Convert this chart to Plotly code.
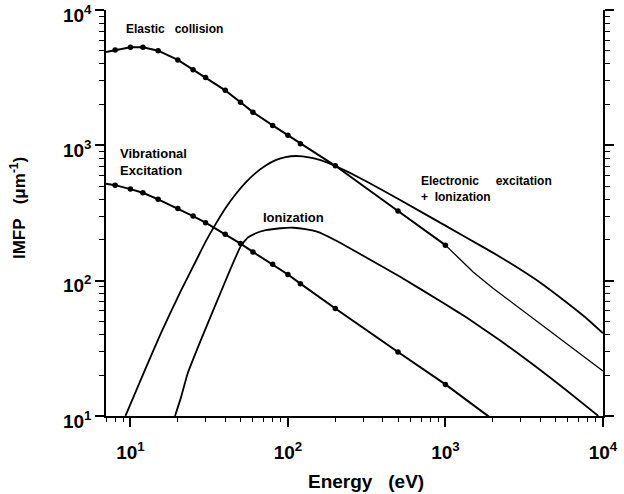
import plotly.graph_objects as go

# Elastic collision IMFP (µm^-1) at the computed energies (eV)
elastic_energy = [8, 10, 12, 15, 20, 25, 30, 40, 50, 60, 80, 100, 120, 200, 500, 1000]
elastic_imfp = [5070, 5310, 5310, 5010, 4280, 3620, 3180, 2550, 2080, 1760, 1405, 1186, 1028, 706, 327, 183]
elastic_edge_energy = [7]
elastic_edge_imfp = [4900]
elastic_tail_energy = [1000, 1125, 1500, 2014, 3600, 5860, 10000]
elastic_tail_imfp = [183, 161, 116, 87.5, 52.5, 34.3, 21.5]

# Vibrational excitation IMFP
vib_energy = [8, 10, 12, 15, 20, 25, 30, 40, 50, 60, 80, 100, 120, 200, 500, 1000]
vib_imfp = [508, 475, 446, 399, 342, 300, 268, 220, 188, 163, 132, 111, 95, 62.2, 29.7, 17.1]
vib_edge_energy = [7]
vib_edge_imfp = [520]
vib_tail_energy = [1000, 2000]
vib_tail_imfp = [17.1, 9.4]

# Electronic excitation + ionization IMFP
exc_energy = [9.3, 12.3, 15.6, 20.9, 26.1, 30.1, 34.9, 40.3, 46.7, 54, 62.5, 72.3, 83.6,
              96.7, 112, 139, 161, 200, 249.5, 318, 516, 1000, 1782, 2252, 2830, 4070,
              5860, 7620, 10000]
exc_imfp = [10, 21.5, 40.7, 84.0, 140.3, 195, 264, 346, 437, 532, 626, 709, 777,
            819, 834, 813, 778, 706, 623, 538, 394, 255, 174, 148.5, 126, 95.4,
            69.3, 54.3, 40.9]

# Ionization IMFP
ion_energy = [19.2, 20.9, 23.1, 28, 35.7, 43.4, 50.2, 55.6, 62.5, 72.3, 89.9, 108.6, 129.4,
              153, 200, 249, 516, 1000, 1364, 2218, 3600, 5860, 9350]
ion_imfp = [10, 13.6, 20.6, 36.3, 71.8, 123.7, 180, 208, 224, 236, 244, 246, 240,
            230, 199, 173, 106.7, 66.9, 53.3, 36.3, 24.0, 15.5, 10]

decades = [10, 100, 1000, 10000]
x_tick_text = ["10<sup>1</sup>", "10<sup>2</sup>", "10<sup>3</sup>", "10<sup>4</sup>"]
y_tick_text = ["10<sup>1</sup>", "10<sup>2</sup>", "10<sup>3</sup>", "10<sup>4</sup>"]
x_minor = [m * d for d in [1, 10, 100, 1000] for m in range(2, 10)]
y_minor = [m * d for d in [10, 100, 1000] for m in range(2, 10)]

FONT = "Arial, 'Liberation Sans', Helvetica, sans-serif"
BLACK = "black"

fig = go.Figure()

fig.add_trace(go.Scatter(x=elastic_edge_energy + elastic_energy,
                         y=elastic_edge_imfp + elastic_imfp,
                         mode="lines", line=dict(color=BLACK, width=2)))
fig.add_trace(go.Scatter(x=elastic_energy, y=elastic_imfp, mode="markers",
                         marker=dict(color=BLACK, size=5.5)))
fig.add_trace(go.Scatter(x=elastic_tail_energy, y=elastic_tail_imfp, mode="lines",
                         line=dict(color=BLACK, width=1.3)))

fig.add_trace(go.Scatter(x=vib_edge_energy + vib_energy, y=vib_edge_imfp + vib_imfp,
                         mode="lines", line=dict(color=BLACK, width=2)))
fig.add_trace(go.Scatter(x=vib_energy, y=vib_imfp, mode="markers",
                         marker=dict(color=BLACK, size=5.5)))
fig.add_trace(go.Scatter(x=vib_tail_energy, y=vib_tail_imfp, mode="lines",
                         line=dict(color=BLACK, width=2)))

fig.add_trace(go.Scatter(x=exc_energy, y=exc_imfp, mode="lines",
                         line=dict(color=BLACK, width=1.8, shape="spline", smoothing=0.5)))
fig.add_trace(go.Scatter(x=ion_energy, y=ion_imfp, mode="lines",
                         line=dict(color=BLACK, width=1.8, shape="spline", smoothing=0.4)))

W, H = 624, 494
L, R, T, B = 106, 21.3, 10, 78.3
PW, PH = W - L - R, H - T - B


def px(x):
    return (x - L) / PW


def py(y):
    return (H - B - y) / PH


def label(text, x, y, size=12):
    fig.add_annotation(text=text, xref="paper", yref="paper", x=px(x), y=py(y),
                       xanchor="left", yanchor="middle", align="left", showarrow=False,
                       font=dict(family=FONT, size=size, color=BLACK, weight="bold"))


label("Elastic\u00a0\u00a0\u00a0collision", 124, 29)
label("Vibrational<br>Excitation", 118, 161.5, 13)
label("Ionization", 261, 217, 13)
label("Electronic\u00a0\u00a0\u00a0\u00a0\u00a0excitation<br>+\u00a0\u00a0Ionization", 419, 188.5)

fig.add_annotation(text="Energy\u00a0\u00a0\u00a0(eV)", xref="paper", yref="paper",
                   x=px(366), y=py(481), xanchor="center", yanchor="middle",
                   showarrow=False,
                   font=dict(family=FONT, size=19, color=BLACK, weight="bold"))
fig.add_annotation(text="IMFP\u00a0\u00a0\u00a0(\u03bcm<sup>-1</sup>)", xref="paper", yref="paper",
                   x=px(18), y=py(208), xanchor="center", yanchor="middle",
                   textangle=-90, showarrow=False,
                   font=dict(family=FONT, size=17, color=BLACK, weight="bold"))

fig.update_layout(
    width=W, height=H,
    margin=dict(l=L, r=R, t=T, b=B, autoexpand=False),
    paper_bgcolor="white", plot_bgcolor="white",
    showlegend=False,
    font=dict(family=FONT, color=BLACK),
)

fig.update_xaxes(
    type="log", range=[0.845, 4.0005], showgrid=False, zeroline=False,
    showline=True, linecolor=BLACK, linewidth=1.5, mirror=False, automargin=False,
    ticks="outside", ticklen=9, tickwidth=1.5, tickcolor=BLACK,
    tickmode="array", tickvals=decades, ticktext=x_tick_text,
    tickfont=dict(family=FONT, size=19, color=BLACK, weight="bold"),
    ticklabelstandoff=9, ticklabeloverflow="allow",
    minor=dict(tickmode="array", tickvals=x_minor, ticks="outside", ticklen=4,
               tickwidth=1.2, tickcolor=BLACK, showgrid=False),
)
fig.update_yaxes(
    type="log", range=[0.9995, 4.0005], showgrid=False, zeroline=False,
    showline=True, linecolor=BLACK, linewidth=1.5, mirror="ticks", automargin=False,
    ticks="outside", ticklen=9, tickwidth=1.5, tickcolor=BLACK,
    tickmode="array", tickvals=decades, ticktext=y_tick_text,
    tickfont=dict(family=FONT, size=19, color=BLACK, weight="bold"),
    ticklabelshift=5, ticklabeloverflow="allow",
    minor=dict(tickmode="array", tickvals=y_minor, ticks="outside", ticklen=5,
               tickwidth=1.2, tickcolor=BLACK, showgrid=False),
)

fig.write_html("out.html")
